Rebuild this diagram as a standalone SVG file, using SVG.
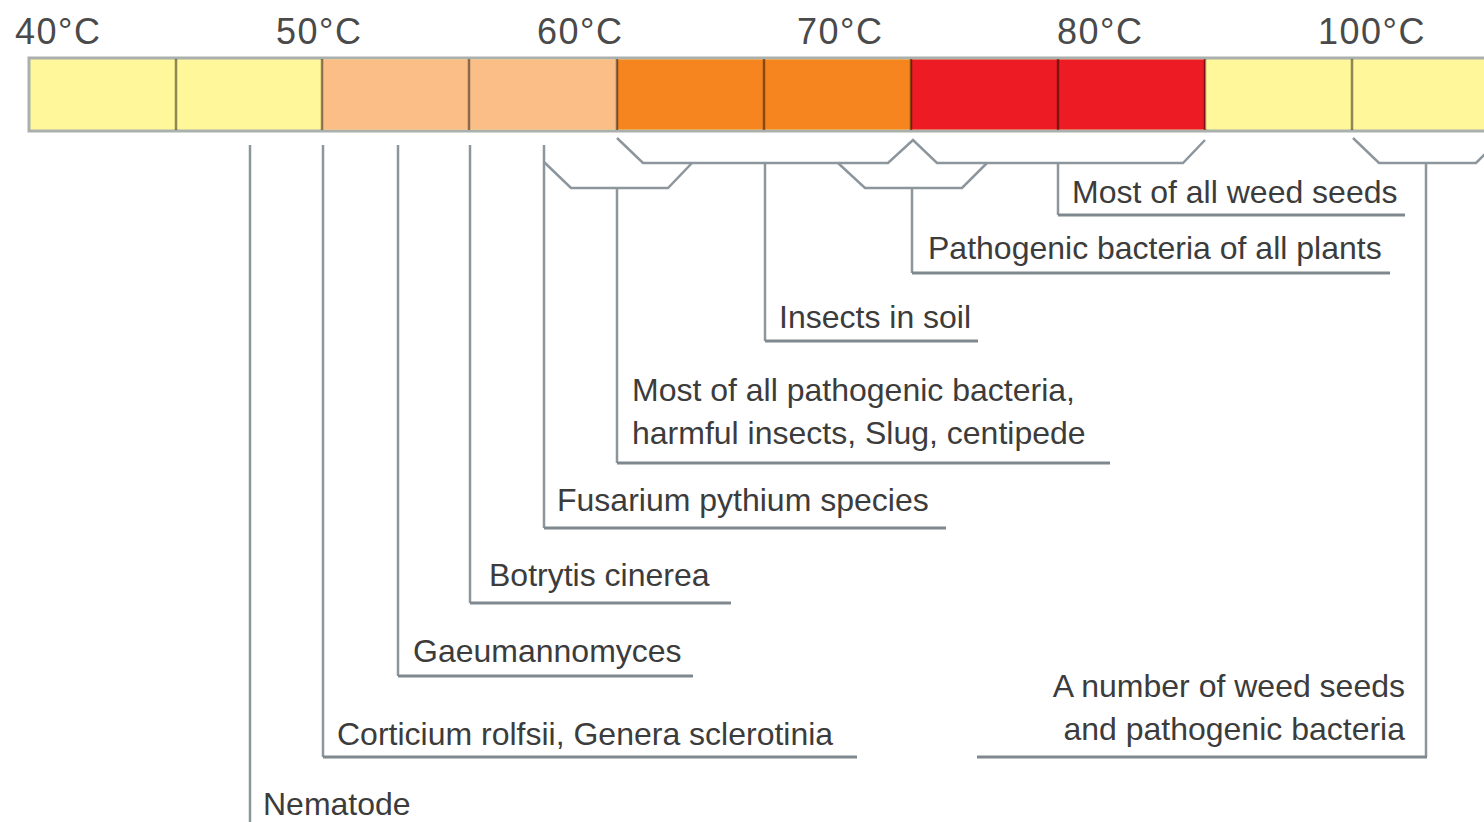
<svg xmlns="http://www.w3.org/2000/svg" width="1484" height="822" viewBox="0 0 1484 822">
<style>
.t{font-family:"Liberation Sans",Arial,sans-serif;font-size:32px;fill:#3c3c3c}
.h{font-family:"Liberation Sans",Arial,sans-serif;font-size:36px;letter-spacing:1.5px;fill:#4a4a4a}
.ln{fill:none;stroke:#8c969c;stroke-width:2.5;stroke-linejoin:miter}
.ul{fill:none;stroke:#7f888e;stroke-width:3}
.div{stroke:#000;stroke-opacity:0.45;stroke-width:2.5}
</style>
<rect width="1484" height="822" fill="#fff"/>
<g id="scale">
<rect x="29" y="58" width="1470" height="73" fill="#fff799" stroke="#aab0ad" stroke-width="3"/>
<rect x="322" y="59.5" width="295" height="70" fill="#fbbe87"/>
<rect x="617" y="59.5" width="294" height="70" fill="#f6851f"/>
<rect x="911" y="59.5" width="294" height="70" fill="#ed1c24"/>
<line class="div" x1="176" y1="59" x2="176" y2="130"/>
<line class="div" x1="322" y1="59" x2="322" y2="130"/>
<line class="div" x1="469" y1="59" x2="469" y2="130"/>
<line class="div" x1="617" y1="59" x2="617" y2="130"/>
<line class="div" x1="764" y1="59" x2="764" y2="130"/>
<line class="div" x1="911" y1="59" x2="911" y2="130"/>
<line class="div" x1="1058" y1="59" x2="1058" y2="130"/>
<line class="div" x1="1205" y1="59" x2="1205" y2="130"/>
<line class="div" x1="1352" y1="59" x2="1352" y2="130"/>
<text class="h" x="15" y="44">40°C</text>
<text class="h" x="276" y="44">50°C</text>
<text class="h" x="537" y="44">60°C</text>
<text class="h" x="797" y="44">70°C</text>
<text class="h" x="1057" y="44">80°C</text>
<text class="h" x="1318" y="44">100°C</text>
</g>
<g id="connectors">
<path class="ln" d="M250 145 V822"/>
<path class="ln" d="M323 145 V757"/>
<path class="ln" d="M398 145 V676"/>
<path class="ln" d="M470 145 V603"/>
<path class="ln" d="M544 145 V528"/>
<path class="ln" d="M544 162 L571 188 H668 L692 163"/>
<path class="ln" d="M617 188 V463"/>
<path class="ln" d="M617 138 L643 163 H888 L913 140 L937 163 H1183 L1205 140"/>
<path class="ln" d="M765 163 V341"/>
<path class="ln" d="M838 163 L865 188 H962 L987 163"/>
<path class="ln" d="M912 188 V273"/>
<path class="ln" d="M1058 163 V215"/>
<path class="ln" d="M1353 138 L1379 163 H1476 L1486 153"/>
<path class="ln" d="M1426 163 V757"/>
<path class="ul" d="M323 757 H857"/>
<path class="ul" d="M398 676 H693"/>
<path class="ul" d="M470 603 H731"/>
<path class="ul" d="M544 528 H946"/>
<path class="ul" d="M617 463 H1110"/>
<path class="ul" d="M765 341 H978"/>
<path class="ul" d="M912 273 H1390"/>
<path class="ul" d="M1058 215 H1405"/>
<path class="ul" d="M977 757 H1427"/>
</g>
<g id="nematode"><text class="t" x="263" y="815">Nematode</text></g>
<g id="corticium"><text class="t" x="337" y="745">Corticium rolfsii, Genera sclerotinia</text></g>
<g id="gaeumannomyces"><text class="t" x="413" y="662">Gaeumannomyces</text></g>
<g id="botrytis"><text class="t" x="489" y="586">Botrytis cinerea</text></g>
<g id="fusarium"><text class="t" x="557" y="511">Fusarium pythium species</text></g>
<g id="pathogenic-most"><text class="t" x="632" y="401">Most of all pathogenic bacteria,</text><text class="t" x="632" y="444">harmful insects, Slug, centipede</text></g>
<g id="insects"><text class="t" x="779" y="328">Insects in soil</text></g>
<g id="pathogenic-plants"><text class="t" x="928" y="259">Pathogenic bacteria of all plants</text></g>
<g id="weed-most"><text class="t" x="1072" y="203">Most of all weed seeds</text></g>
<g id="weed-number"><text class="t" x="1405" y="697" text-anchor="end">A number of weed seeds</text><text class="t" x="1405" y="740" text-anchor="end">and pathogenic bacteria</text></g>
</svg>
